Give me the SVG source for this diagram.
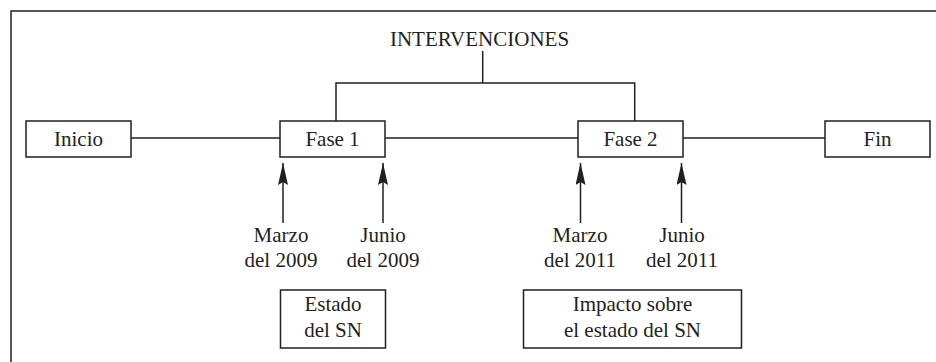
<svg xmlns="http://www.w3.org/2000/svg" width="936" height="362" viewBox="0 0 936 362">
<defs>
<style>
.box{fill:#fff;stroke:#231f20;stroke-width:1.5}
.ln{fill:none;stroke:#231f20;stroke-width:1.5}
text{font-family:"Liberation Serif","Times New Roman",serif;font-size:21px;fill:#231f20;text-anchor:middle}
</style>
<marker id="ah" viewBox="0 0 22 10" refX="22" refY="5" markerWidth="22" markerHeight="10" markerUnits="userSpaceOnUse" orient="auto">
<path d="M22 5 L0 0 L3 5 L0 10 Z" fill="#231f20"/>
</marker>
</defs>
<rect x="0" y="0" width="936" height="362" fill="#fff"/>
<path class="ln" d="M11 362 V11 H936"/>
<g id="connectors">
<path class="ln" d="M131 138 H280 M385 138 H578 M683 138 H825"/>
<path class="ln" d="M482.7 51 V83 M336 121 V83 H634.7 V121"/>
<line class="ln" x1="283" y1="223" x2="283" y2="163" marker-end="url(#ah)"/>
<line class="ln" x1="383" y1="223" x2="383" y2="163" marker-end="url(#ah)"/>
<line class="ln" x1="580.5" y1="223" x2="580.5" y2="163" marker-end="url(#ah)"/>
<line class="ln" x1="681.5" y1="223" x2="681.5" y2="163" marker-end="url(#ah)"/>
</g>
<g id="intervenciones"><text x="479.5" y="46">INTERVENCIONES</text></g>
<g id="inicio"><rect class="box" x="26" y="121" width="105" height="36"/><text x="78.5" y="146">Inicio</text></g>
<g id="fase1"><rect class="box" x="280" y="121" width="105" height="36"/><text x="332.5" y="146">Fase 1</text></g>
<g id="fase2"><rect class="box" x="578" y="121" width="105" height="36"/><text x="630.5" y="146">Fase 2</text></g>
<g id="fin"><rect class="box" x="825" y="121" width="105" height="36"/><text x="877.5" y="146">Fin</text></g>
<g id="marzo2009"><text x="281" y="242">Marzo</text><text x="281" y="267">del 2009</text></g>
<g id="junio2009"><text x="383" y="242">Junio</text><text x="383" y="267">del 2009</text></g>
<g id="marzo2011"><text x="580" y="242">Marzo</text><text x="580" y="267">del 2011</text></g>
<g id="junio2011"><text x="682" y="242">Junio</text><text x="682" y="267">del 2011</text></g>
<g id="estado"><rect class="box" x="280.5" y="290" width="105" height="58"/><text x="333" y="311">Estado</text><text x="333" y="337">del SN</text></g>
<g id="impacto"><rect class="box" x="523.5" y="290" width="218" height="58"/><text x="632.5" y="311">Impacto sobre</text><text x="632.5" y="337">el estado del SN</text></g>
</svg>
